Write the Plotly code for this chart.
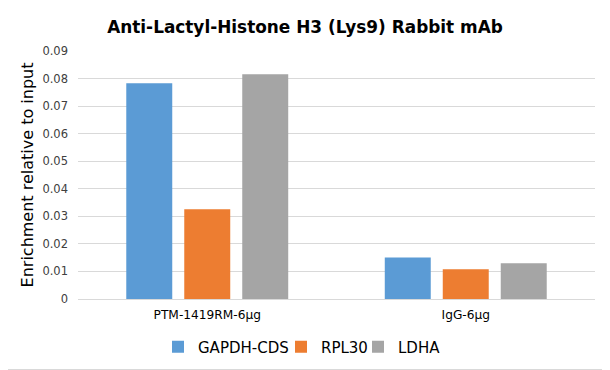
import plotly.graph_objects as go

categories = ["PTM-1419RM-6μg", "IgG-6μg"]
series_names = ["GAPDH-CDS", "RPL30", "LDHA"]
gapdh = [0.0783, 0.0151]
rpl30 = [0.0326, 0.0108]
ldha = [0.0816, 0.0130]
colors = ["#5B9BD5", "#ED7D31", "#A5A5A5"]
y_ticks = [0, 0.01, 0.02, 0.03, 0.04, 0.05, 0.06, 0.07, 0.08, 0.09]
y_labels = ["0", "0.01", "0.02", "0.03", "0.04", "0.05", "0.06", "0.07", "0.08", "0.09"]

FONT = "DejaVu Sans"
OFF = 8  # browser body margin
W, H = 610 - OFF, 370 - OFF
L, R, T, B = 78 - OFF, 15, 51 - OFF, 71
pw, ph = W - L - R, H - T - B

# legend text start positions (page px)
leg_text_x = [198, 321, 398]
leg_names = ["legend", "legend2", "legend3"]

fig = go.Figure()
for name, vals, c, lg in zip(series_names, [gapdh, rpl30, ldha], colors, leg_names):
    fig.add_trace(go.Bar(x=categories, y=vals, name=name, legend=lg,
                         marker=dict(color=c, line=dict(width=0))))

def leg(xpage):
    return dict(orientation="h", x=(xpage - OFF - 40 - L) / pw, xanchor="left",
                y=(299 - 347) / ph, yanchor="middle", bgcolor="rgba(0,0,0,0)",
                font=dict(size=15, color="#000000"), itemwidth=30)

fig.update_layout(
    width=W, height=H,
    margin=dict(l=L, r=R, t=T, b=B, autoexpand=False),
    paper_bgcolor="white", plot_bgcolor="white",
    barmode="group", bargap=0.327, bargroupgap=0.207,
    title=dict(text="<b>Anti-Lactyl-Histone H3 (Lys9) Rabbit mAb</b>", x=(305 - OFF) / W, xanchor="center",
               y=1 - (27 - OFF) / H, yanchor="middle", font=dict(family=FONT, size=16.9, color="#000000")),
    font=dict(family=FONT, color="#595959"),
    xaxis=dict(showgrid=False, showline=True, linecolor="#D9D9D9", linewidth=1, automargin=False,
               tickfont=dict(size=12.2, color="#000000"), ticks="", ticklen=0, ticklabelstandoff=4),
    yaxis=dict(range=[0, 0.09], tickvals=y_ticks, ticktext=y_labels, showgrid=True, automargin=False,
               gridcolor="#D9D9D9", gridwidth=1, zeroline=False, showline=False,
               tickfont=dict(size=11.5, color="#404040"), ticks="", ticklabelstandoff=9,
               title=dict(text="Enrichment relative to input", font=dict(size=16, color="#000000"), standoff=4)),
    legend=leg(leg_text_x[0]),
    legend2=leg(leg_text_x[1]),
    legend3=leg(leg_text_x[2]),
    showlegend=True,
)
# chart border (right and bottom edges visible within the page)
fig.add_shape(type="line", xref="paper", yref="paper",
              x0=(W - 0.5 - L) / pw, x1=(W - 0.5 - L) / pw, y0=-(B - 0.5) / ph, y1=1 + T / ph,
              line=dict(color="#D9D9D9", width=1))
fig.add_shape(type="line", xref="paper", yref="paper",
              x0=-L / pw, x1=(W - 0.5 - L) / pw, y0=-(B - 0.5) / ph, y1=-(B - 0.5) / ph,
              line=dict(color="#D9D9D9", width=1))
fig.write_html("out.html")
